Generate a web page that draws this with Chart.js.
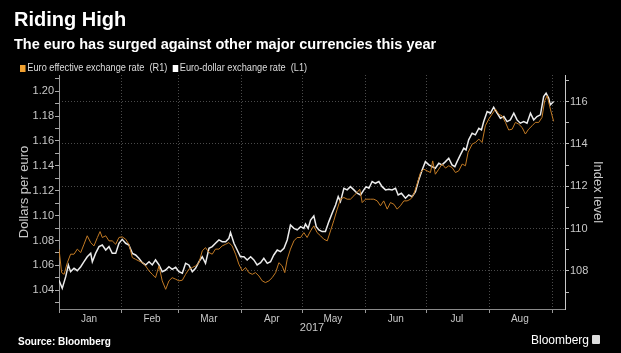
<!DOCTYPE html>
<html><head><meta charset="utf-8">
<script src="https://cdn.jsdelivr.net/npm/chart.js@4/dist/chart.umd.min.js"></script>
<style>
html,body{margin:0;padding:0;background:#000;width:621px;height:353px;overflow:hidden}
#wrap{position:relative;width:621px;height:353px;background:#000}
canvas{position:absolute;left:0;top:0}
.t{position:absolute;white-space:nowrap;color:#fff;font-family:"Liberation Sans",Arial,sans-serif;line-height:1}
.sq{display:inline-block;width:6px;height:7px;margin-right:2px;vertical-align:-1px}
</style></head><body>
<div id="wrap">
<canvas id="c" width="621" height="353"></canvas>
<div class="t" style="left:14px;top:9px;font-size:20px;font-weight:bold">Riding High</div>
<div class="t" style="left:14px;top:37px;font-size:14.5px;font-weight:bold">The euro has surged against other major currencies this year</div>
<div class="t" style="left:20px;top:63px;font-size:10px;color:#ddd;transform:scaleX(0.92);transform-origin:0 0"><span class="sq" style="background:#f0a030"></span>Euro effective exchange rate&nbsp; (R1)&nbsp; <span class="sq" style="background:#fff"></span>Euro-dollar exchange rate&nbsp; (L1)</div>
<div class="t" style="left:18px;top:337px;font-size:10px;font-weight:bold">Source: Bloomberg</div>
<div class="t" style="left:531px;top:334px;font-size:12px">Bloomberg</div>
<div style="position:absolute;left:592px;top:335px;width:8px;height:9px;background:#ddd;border-radius:1px"></div>
</div>
<script>
// Euro-dollar exchange rate (L1), days since 1 Jan 2017
const usdDays = [0,1.6,3.3,4.6,5.7,7.4,9.0,10.7,12.3,13.9,
15.6,16.4,18.0,19.7,21.3,23.0,24.6,26.2,27.9,29.5,
31.1,32.8,34.4,36.1,37.7,39.3,41.0,42.6,44.3,45.9,
47.5,49.2,50.8,52.5,54.1,55.7,57.4,59.0,60.7,62.3,
63.9,65.6,67.2,68.9,70.5,72.1,73.8,75.4,77.0,78.7,
80.3,82.0,83.6,84.4,86.1,87.7,89.3,91.0,92.6,94.3,
95.9,97.5,99.2,100.8,102.5,104.1,105.7,107.4,109.0,110.7,
112.3,113.9,115.6,117.2,118.9,120.5,121.3,122.6,123.8,125.4,
126.6,127.9,129.5,131.1,132.8,134.4,136.1,137.4,138.5,140.2,
141.8,143.4,145.1,146.7,148.4,150.0,151.1,152.5,154.1,155.7,
157.4,159.0,160.7,162.3,163.9,165.6,166.9,168.5,170.5,172.1,
173.8,175.4,177.0,178.7,180.3,182.0,183.6,185.2,186.9,188.5,
190.2,191.8,193.4,194.8,195.9,197.5,199.2,200.3,201.6,203.3,
204.9,206.6,207.9,209.0,210.7,212.3,213.9,215.6,217.2,218.9,
220.5,222.1,223.8,225.4,227.0,228.7,230.3,232.0,233.6,235.2,
236.9,238.5,239.7,241.0,241.8,243.4];
const usdValues = [1.048,1.0416,1.051,1.0604,1.055,1.0577,1.0558,1.059,1.063,1.067,
1.0697,1.063,1.0697,1.0751,1.0764,1.0724,1.0751,1.0697,1.0697,1.0778,
1.081,1.0778,1.0764,1.0697,1.0684,1.0657,1.0622,1.0604,1.063,1.0604,
1.0644,1.0604,1.055,1.0563,1.059,1.0569,1.0585,1.055,1.0537,1.0617,
1.0604,1.055,1.0577,1.063,1.067,1.0617,1.0738,1.0751,1.0778,1.0805,
1.0791,1.0791,1.0818,1.0864,1.0778,1.0724,1.067,1.067,1.0644,1.067,
1.0644,1.0604,1.0622,1.0657,1.0617,1.063,1.0684,1.0724,1.0711,1.0738,
1.0805,1.0925,1.0898,1.0885,1.0912,1.0898,1.0933,1.0898,1.0965,1.0998,
1.0912,1.0885,1.0872,1.0872,1.0952,1.1019,1.1086,1.1153,1.1113,1.122,
1.1207,1.1233,1.1207,1.118,1.1166,1.1207,1.1233,1.122,1.1274,1.126,
1.1274,1.1233,1.1207,1.1212,1.1207,1.122,1.1166,1.118,1.114,1.1166,
1.1153,1.1193,1.1287,1.1367,1.1434,1.1408,1.1394,1.1381,1.1421,1.1408,
1.1434,1.1461,1.1408,1.1394,1.1434,1.1488,1.1542,1.1528,1.1609,1.1662,
1.1649,1.1702,1.1689,1.1756,1.1836,1.1823,1.1871,1.1823,1.1783,1.1796,
1.1756,1.1769,1.1823,1.1769,1.1743,1.1756,1.1743,1.1823,1.1769,1.1796,
1.181,1.1957,1.1984,1.1944,1.189,1.1917];

// Euro effective exchange rate (R1), days since 1 Jan 2017
const eerDays = [0,1.3,2.5,4.1,5.7,7.4,9.0,10.7,12.3,13.9,
15.6,17.2,18.9,20.2,21.3,23.0,24.6,26.2,27.9,29.5,
31.1,32.8,34.4,36.1,37.7,39.3,41.0,42.6,44.3,45.9,
47.5,49.2,50.8,52.5,54.1,55.7,57.4,59.0,60.7,62.3,
63.9,65.6,67.2,68.9,70.5,72.1,73.8,75.4,77.0,78.7,
80.3,82.0,83.6,85.2,86.9,88.5,90.2,91.8,93.4,95.1,
96.7,98.4,100.0,101.6,103.3,104.9,106.6,108.2,109.8,111.1,
112.3,113.9,115.6,117.2,118.9,120.5,122.1,123.8,125.4,127.0,
128.7,130.3,132.0,133.6,135.2,136.9,138.5,140.2,141.8,143.4,
145.1,146.7,148.0,149.2,150.8,153.3,154.9,156.6,158.2,159.8,
161.5,163.1,164.8,166.4,168.0,169.7,171.3,173.0,174.6,176.2,
177.9,179.5,181.1,182.8,183.9,185.2,186.9,188.5,190.2,191.8,
193.4,195.1,196.7,198.4,200.0,201.3,203.3,204.9,206.6,208.2,
209.8,211.5,213.1,214.8,216.4,218.0,219.7,221.3,223.0,224.6,
226.2,227.9,229.5,231.1,232.8,234.4,236.1,237.7,239.0,240.2,
241.8,243.4];
const eerValues = [109.03,107.92,107.84,108.39,108.79,108.79,109.03,108.87,109.26,109.66,
109.34,109.18,109.58,109.86,109.58,109.66,109.42,109.42,109.26,109.58,
109.61,109.50,109.26,108.63,108.55,108.47,108.39,108.24,108.00,107.84,
107.68,108.24,107.53,107.13,107.53,107.68,107.61,107.53,107.56,107.84,
108.08,108.16,108.24,108.39,108.95,109.10,108.87,108.79,109.03,109.03,
109.18,109.26,109.34,109.18,108.79,108.32,108.00,108.16,107.92,107.84,
107.92,107.76,107.53,107.45,107.53,107.68,107.92,108.39,108.24,107.92,
108.55,109.03,109.42,109.58,109.58,109.81,109.58,109.89,110.13,109.81,
109.66,109.50,109.42,109.89,110.37,110.92,111.39,111.47,111.39,111.39,
111.55,111.71,111.86,111.23,111.39,111.39,111.39,111.31,111.08,111.31,
110.92,111.23,111.15,110.92,111.08,111.31,111.31,111.39,111.63,112.10,
112.65,112.81,112.73,112.65,113.20,112.57,112.81,113.05,112.86,112.97,
112.89,112.65,112.73,113.05,112.97,113.60,113.99,114.07,114.23,114.07,
114.86,115.18,115.41,115.65,115.41,115.33,115.02,114.66,114.70,115.02,
114.94,114.78,114.47,114.70,114.86,115.02,115.02,115.26,116.04,116.28,
115.65,115.07];

const monthStarts = [0,31,59,90,120,151,181,212,243];
const monthLabels = ['Jan','Feb','Mar','Apr','May','Jun','Jul','Aug',''];

const FONT = '"Liberation Sans", Arial, sans-serif';
const pts = (xs, ys) => xs.map((x, i) => ({x: x, y: ys[i]}));

new Chart(document.getElementById('c'), {
  type: 'line',
  data: {
    datasets: [
      {label: 'Euro effective exchange rate (R1)', data: pts(eerDays, eerValues), yAxisID: 'yR',
       borderColor: '#c27a24', borderWidth: 1, pointRadius: 0, tension: 0},
      {label: 'Euro-dollar exchange rate (L1)', data: pts(usdDays, usdValues), yAxisID: 'yL',
       borderColor: '#ececec', borderWidth: 1.5, pointRadius: 0, tension: 0}
    ]
  },
  options: {
    responsive: false, animation: false,
    layout: {padding: {top: 75, left: 0, right: 0, bottom: 0}},
    plugins: {legend: {display: false}, tooltip: {enabled: false}},
    scales: {
      x: {
        type: 'linear', min: 0, max: 249,
        afterBuildTicks: s => { s.ticks = monthStarts.map(v => ({value: v})); },
        afterFit: s => { s.height = 44; },
        ticks: {autoSkip: false, maxRotation: 0, labelOffset: 30, padding: 0, color: '#c8c8c8',
          font: {family: FONT, size: 10},
          callback: v => { const i = monthStarts.indexOf(v); return i >= 0 ? monthLabels[i] : ''; }},
        grid: {color: '#4a4a4a', lineWidth: 1, tickLength: 4, tickColor: '#999', tickBorderDash: []},
        border: {display: true, color: '#8a8a8a', width: 1, dash: [1, 2]},
        title: {display: true, text: '2017', color: '#c8c8c8', font: {family: FONT, size: 11}, padding: {top: 0, bottom: 18}}
      },
      yL: {
        position: 'left', min: 1.025, max: 1.213,
        afterFit: s => { s.width = 59; },
        ticks: {stepSize: 0.01, includeBounds: false, autoSkip: false, padding: 1, color: '#c8c8c8',
          font: {family: FONT, size: 11},
          callback: v => { const h = Math.round(v * 100); return h % 2 === 0 ? (h / 100).toFixed(2) : ''; }},
        grid: {drawOnChartArea: false, tickLength: 4, tickColor: '#aaa'},
        border: {display: true, color: '#9a9a9a', width: 1},
        title: {display: true, text: 'Dollars per euro', color: '#c8c8c8', font: {family: FONT, size: 13}, padding: {top: 17, bottom: 0}}
      },
      yR: {
        position: 'right', min: 106.2, max: 117.26,
        afterFit: s => { s.width = 56; },
        ticks: {stepSize: 1, includeBounds: false, autoSkip: false, padding: 1, color: '#c8c8c8',
          font: {family: FONT, size: 11},
          callback: v => { const r = Math.round(v); return r % 2 === 0 ? String(r) : ''; }},
        grid: {
          color: c => (c.tick && Math.round(c.tick.value) % 2 === 0) ? '#4a4a4a' : 'rgba(0,0,0,0)',
          tickLength: 4, tickColor: '#bbb', tickBorderDash: []},
        border: {display: true, color: '#c8c8c8', width: 1, dash: [1, 2]},
        title: {display: true, text: 'Index level', color: '#c8c8c8', font: {family: FONT, size: 13}, padding: {top: 16, bottom: 0}}
      }
    }
  }
});
</script>
</body></html>
